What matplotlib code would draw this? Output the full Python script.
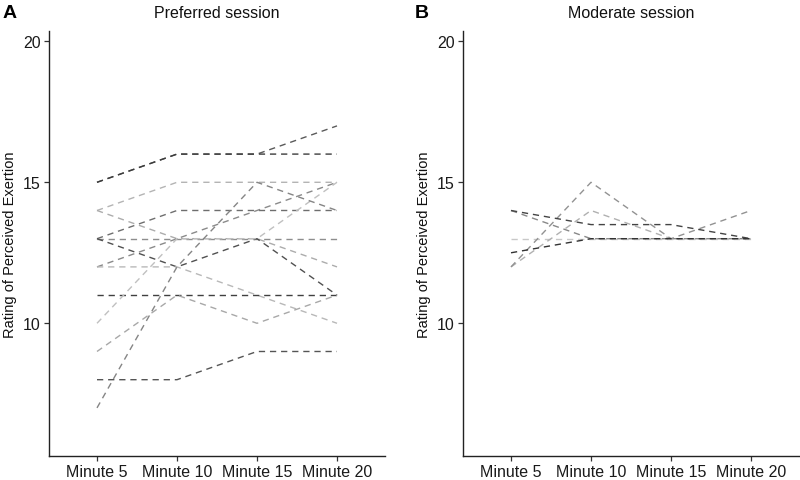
import matplotlib
matplotlib.use("Agg")
import matplotlib.pyplot as plt

plt.rcParams['font.family'] = ['Liberation Sans', 'DejaVu Sans']

minutes = ["Minute 5", "Minute 10", "Minute 15", "Minute 20"]

# Preferred session: one list of ratings per participant
pref_values = [
    [15, 16, 16, 17],
    [15, 16, 16, 16],
    [14, 15, 15, 15],
    [14, 13, 13, 12],
    [13, 14, 14, 14],
    [13, 13, 13, 13],
    [13, 12, 13, 11],
    [12, 13, 14, 15],
    [12, 12, 11, 10],
    [11, 11, 11, 11],
    [10, 13, 13, 15],
    [9, 11, 10, 11],
    [8, 8, 9, 9],
    [7, 12, 15, 14],
]
pref_colors = ["#5a5a5a", "#3c3c3c", "#b4b4b4", "#acacac", "#6e6e6e", "#8e8e8e",
               "#505050", "#8a8a8a", "#b8b8b8", "#404040", "#c0c0c0", "#a8a8a8",
               "#555555", "#858585"]

# Moderate session
mod_values = [
    [13, 13, 13, 13],
    [12, 14, 13, 13],
    [12, 15, 13, 14],
    [14, 13, 13, 13],
    [14, 13.5, 13.5, 13],
    [12.5, 13, 13, 13],
]
mod_colors = ["#c8c8c8", "#b0b0b0", "#929292", "#888888", "#444444", "#333333"]

titles = ["Preferred session", "Moderate session"]
panel_tags = ["A", "B"]
ylabel = "Rating of Perceived Exertion"
yticks = [10, 15, 20]

fig = plt.figure(figsize=(8.0, 4.81), dpi=100)
W, H = 800, 481
axA = fig.add_axes([49 / W, (H - 457) / H, 336 / W, (457 - 32) / H])
axB = fig.add_axes([463 / W, (H - 457) / H, 336 / W, (457 - 32) / H])

xs = [1, 2, 3, 4]
for ax, vals, cols, title, tag in [(axA, pref_values, pref_colors, titles[0], panel_tags[0]),
                                   (axB, mod_values, mod_colors, titles[1], panel_tags[1])]:
    for v, c in zip(vals, cols):
        ax.plot(xs, v, color=c, linewidth=1.0, linestyle=(0, (4.5, 3.5)))
    ax.set_xlim(0.4, 4.6)
    ax.set_ylim(5.294, 20.365)
    ax.set_xticks(xs)
    ax.set_xticklabels(minutes, fontsize=11.5, color="#1a1a1a")
    ax.set_yticks(yticks)
    ax.set_yticklabels([str(t) for t in yticks], fontsize=11.5, color="#1a1a1a")
    for s in ["top", "right"]:
        ax.spines[s].set_visible(False)
    for s in ["left", "bottom"]:
        ax.spines[s].set_linewidth(1.0)
        ax.spines[s].set_color("#222222")
    ax.tick_params(axis="both", length=3.5, width=0.9, color="#333333", pad=2.5)
    ax.set_ylabel(ylabel, fontsize=10.5, color="#111111", labelpad=4)
    ax.set_title(title, fontsize=11.5, color="#111111", pad=10)

fig.text(3 / W, 1 - 13 / H, panel_tags[0], fontsize=14, fontweight="bold", va="center", ha="left")
fig.text(415 / W, 1 - 13 / H, panel_tags[1], fontsize=14, fontweight="bold", va="center", ha="left")

fig.savefig("out.png", dpi=100)
